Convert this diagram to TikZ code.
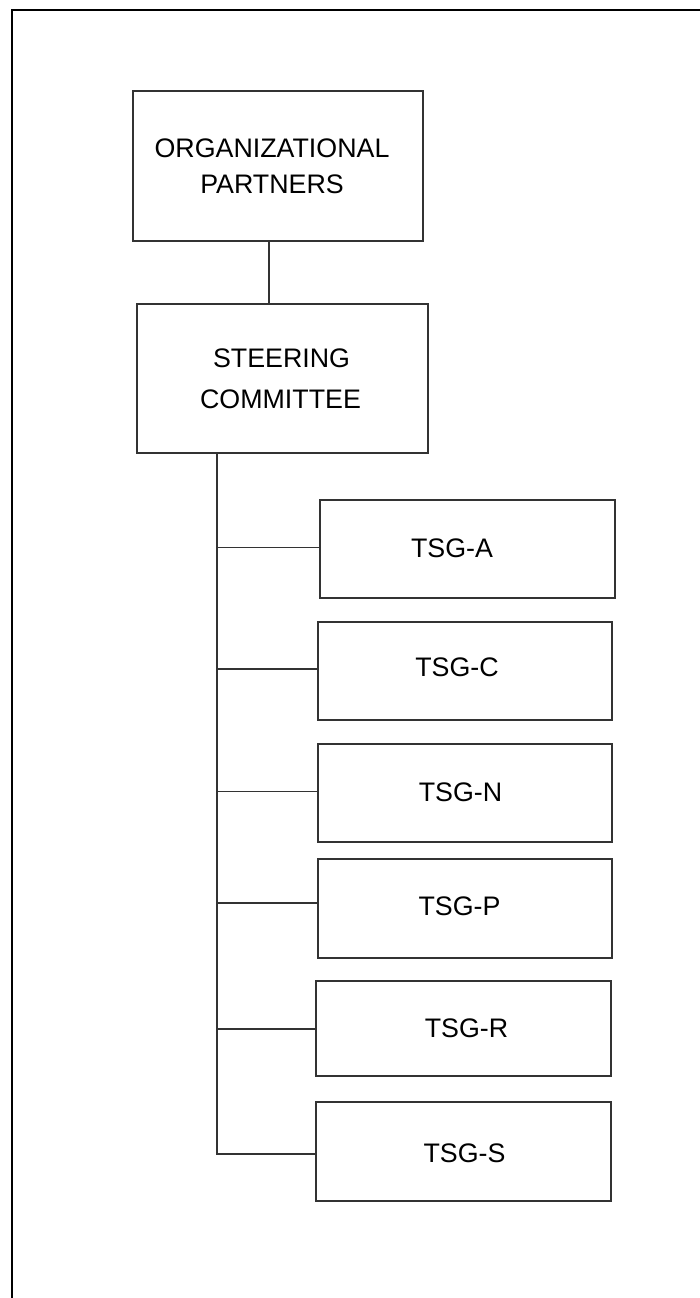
\documentclass[tikz,border=0pt]{standalone}
\usepackage{fontspec}
\setmainfont{Liberation Sans}
\begin{document}
\begin{tikzpicture}[x=1pt,y=-1pt,
  box/.style={draw=black!80,line width=1.2pt,rectangle,inner sep=0pt},
  lbl/.style={inner sep=0pt,anchor=base,font=\fontsize{26.8}{36}\selectfont},
  link/.style={draw=black!80,line width=1.2pt},
  frame/.style={draw=black,line width=2.2pt}]
\useasboundingbox (0,0) rectangle (699,1298);
% outer frame (top and left edges visible)
\coordinate (fa) at (12,1300);
\coordinate (fb) at (12,10);
\coordinate (fc) at (700,10);
\draw[frame] (fa) -- (fb) -- (fc);
% boxes
\node[box,minimum width=290pt,minimum height=150pt] (op) at (278,166) {};
\node[box,minimum width=291pt,minimum height=149pt] (sc) at (282.5,378.5) {};
\node[box,minimum width=295pt,minimum height=98pt] (a) at (467.5,549) {};
\node[box,minimum width=294pt,minimum height=98pt] (c) at (465,671) {};
\node[box,minimum width=294pt,minimum height=98pt] (n) at (465,793) {};
\node[box,minimum width=294pt,minimum height=99pt] (p) at (465,908.5) {};
\node[box,minimum width=295pt,minimum height=95pt] (r) at (463.5,1028.5) {};
\node[box,minimum width=295pt,minimum height=99pt] (s) at (463.5,1151.5) {};
% texts
\node[lbl] (opt1) at (272,157) {ORGANIZATIONAL};
\node[lbl] (opt2) at (272,193) {PARTNERS};
\node[lbl] (sct1) at (281.5,367) {STEERING};
\node[lbl] (sct2) at (280.5,408) {COMMITTEE};
\node[lbl] (at) at (452,557) {TSG-A};
\node[lbl] (ct) at (457,676.5) {TSG-C};
\node[lbl] (nt) at (460.5,801) {TSG-N};
\node[lbl] (pt) at (459.5,915) {TSG-P};
\node[lbl] (rt) at (466.5,1037.5) {TSG-R};
\node[lbl] (st) at (464.5,1162.5) {TSG-S};
% connectors
\coordinate (opj) at (269,241);
\draw[link] (opj) -- (opj |- sc.north);
\coordinate (top) at (217,453);
\coordinate (ja) at (217,547.5);
\coordinate (jc) at (217,669);
\coordinate (jn) at (217,791.5);
\coordinate (jp) at (217,903);
\coordinate (jr) at (217,1029);
\coordinate (js) at (217,1154);
\draw[link] (top) -- (js) -- (js -| s.west);
\draw[link] (ja) -- (ja -| a.west);
\draw[link] (jc) -- (jc -| c.west);
\draw[link] (jn) -- (jn -| n.west);
\draw[link] (jp) -- (jp -| p.west);
\draw[link] (jr) -- (jr -| r.west);
\end{tikzpicture}
\end{document}
